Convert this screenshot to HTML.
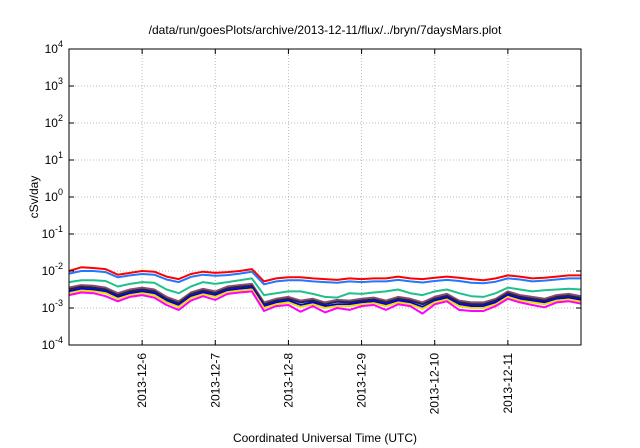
<!DOCTYPE html>
<html><head><meta charset="utf-8"><style>
html,body{margin:0;padding:0;background:#fff;}
svg{display:block;font-family:"Liberation Sans",sans-serif;}
</style></head><body>
<svg id="chart" width="640" height="448" viewBox="0 0 640 448" xmlns="http://www.w3.org/2000/svg">
<text x="325" y="34" font-size="12" text-anchor="middle">/data/run/goesPlots/archive/2013-12-11/flux/../bryn/7daysMars.plot</text>
<text transform="translate(38,197) rotate(-90)" font-size="12" text-anchor="middle">cSv/day</text>
<text x="325" y="442" font-size="12" text-anchor="middle">Coordinated Universal Time (UTC)</text>
<g id="grid"></g>
<g id="series"></g>
<g id="axes"></g>
</svg>
<script>
const dayLabels=["2013-12-6","2013-12-7","2013-12-8","2013-12-9","2013-12-10","2013-12-11"];
const yExponents=[-4,-3,-2,-1,0,1,2,3,4];
// log10 of values, sampled every 4 hours from 2013-12-05 00:00
const redExp=[-2.0,-1.9,-1.92,-1.95,-2.1,-2.05,-2.0,-2.02,-2.15,-2.22,-2.08,-2.02,-2.05,-2.03,-2.0,-1.95,-2.28,-2.2,-2.17,-2.17,-2.2,-2.22,-2.24,-2.2,-2.22,-2.2,-2.2,-2.15,-2.2,-2.22,-2.18,-2.15,-2.18,-2.22,-2.25,-2.2,-2.12,-2.15,-2.2,-2.18,-2.15,-2.12,-2.12];
const blueExp=[-2.07,-2.0,-2.0,-2.03,-2.17,-2.12,-2.08,-2.1,-2.23,-2.3,-2.16,-2.1,-2.13,-2.11,-2.07,-2.02,-2.36,-2.28,-2.25,-2.25,-2.28,-2.3,-2.32,-2.28,-2.3,-2.28,-2.28,-2.24,-2.28,-2.31,-2.27,-2.24,-2.27,-2.32,-2.33,-2.29,-2.2,-2.23,-2.28,-2.26,-2.23,-2.2,-2.2];
const tealExp=[-2.3,-2.25,-2.25,-2.27,-2.42,-2.35,-2.3,-2.32,-2.5,-2.6,-2.42,-2.3,-2.35,-2.3,-2.25,-2.2,-2.65,-2.6,-2.55,-2.55,-2.62,-2.7,-2.72,-2.6,-2.62,-2.58,-2.55,-2.5,-2.6,-2.65,-2.55,-2.5,-2.6,-2.68,-2.7,-2.6,-2.45,-2.5,-2.55,-2.52,-2.5,-2.48,-2.5];
const purpleExp=[-2.45,-2.38,-2.4,-2.45,-2.6,-2.5,-2.45,-2.5,-2.7,-2.82,-2.58,-2.48,-2.55,-2.42,-2.38,-2.35,-2.85,-2.75,-2.7,-2.8,-2.75,-2.85,-2.78,-2.8,-2.75,-2.72,-2.8,-2.7,-2.75,-2.85,-2.7,-2.62,-2.8,-2.85,-2.85,-2.75,-2.55,-2.65,-2.7,-2.75,-2.65,-2.62,-2.68];
const blackExp=[-2.5,-2.43,-2.45,-2.5,-2.65,-2.55,-2.5,-2.55,-2.75,-2.87,-2.63,-2.53,-2.6,-2.47,-2.43,-2.4,-2.9,-2.8,-2.75,-2.85,-2.8,-2.9,-2.83,-2.85,-2.8,-2.77,-2.85,-2.75,-2.8,-2.9,-2.75,-2.67,-2.85,-2.9,-2.9,-2.8,-2.6,-2.7,-2.75,-2.8,-2.7,-2.67,-2.73];
const navyExp=[-2.55,-2.48,-2.5,-2.55,-2.7,-2.6,-2.55,-2.6,-2.8,-2.92,-2.68,-2.58,-2.65,-2.52,-2.48,-2.45,-2.95,-2.85,-2.8,-2.92,-2.85,-2.95,-2.9,-2.9,-2.85,-2.82,-2.9,-2.8,-2.85,-2.97,-2.8,-2.72,-2.9,-2.95,-2.95,-2.85,-2.65,-2.75,-2.8,-2.85,-2.75,-2.72,-2.78];
const yellowExp=[-2.6,-2.53,-2.55,-2.6,-2.75,-2.65,-2.6,-2.65,-2.85,-2.97,-2.73,-2.63,-2.7,-2.57,-2.53,-2.5,-3.0,-2.9,-2.85,-2.97,-2.9,-3.0,-2.95,-2.95,-2.9,-2.87,-2.95,-2.85,-2.9,-3.02,-2.85,-2.77,-2.95,-3.0,-3.0,-2.9,-2.7,-2.8,-2.85,-2.9,-2.8,-2.77,-2.83];
const magentaExp=[-2.65,-2.58,-2.6,-2.68,-2.82,-2.7,-2.65,-2.72,-2.92,-3.05,-2.8,-2.68,-2.78,-2.62,-2.58,-2.55,-3.08,-2.95,-2.92,-3.1,-2.95,-3.12,-3.0,-3.05,-2.95,-2.92,-3.05,-2.9,-2.95,-3.15,-2.9,-2.82,-3.05,-3.08,-3.08,-2.95,-2.75,-2.85,-2.92,-2.98,-2.85,-2.82,-2.88];
const seriesList=[["series-red",redExp,"#ff0000"],["series-blue",blueExp,"#1f78ff"],["series-teal",tealExp,"#20c08c"],["series-purple",purpleExp,"#8a4a70"],["series-black",blackExp,"#222244"],["series-navy",navyExp,"#0000e0"],["series-yellow",yellowExp,"#f0e000"],["series-magenta",magentaExp,"#ff00ff"]];
const L=69,R=581,T=49,B=345,NS="http://www.w3.org/2000/svg";
function xDay(d){return L+(R-L)*d/7;}
function yExp(e){return B-(B-T)*(e+4)/8;}
function mk(tag,attrs,parent){const el=document.createElementNS(NS,tag);for(const k in attrs)el.setAttribute(k,attrs[k]);parent.appendChild(el);return el;}
const grid=document.getElementById('grid'),axes=document.getElementById('axes'),ser=document.getElementById('series');
yExponents.forEach((e,i)=>{const y=yExp(e);
 if(i>0&&i<yExponents.length-1){const g=mk('line',{x1:L,x2:R,y1:y,y2:y,stroke:'#bbb','stroke-dasharray':'1,2'},grid);}
 const t=mk('line',{x1:L,x2:L+5,y1:y,y2:y,stroke:'#000'},axes);
 mk('line',{x1:R,x2:R-5,y1:y,y2:y,stroke:'#000'},axes);
 const tx=mk('text',{x:L-6,y:y+4,'font-size':12,'text-anchor':'end'},axes);
 
 tx.appendChild(document.createTextNode('10'));
 const sp=mk('tspan',{dy:-6,'font-size':9},tx);sp.textContent=String(e);
});
dayLabels.forEach((lab,i)=>{const x=xDay(i+1);
 const g=mk('line',{x1:x,x2:x,y1:T,y2:B,stroke:'#bbb','stroke-dasharray':'1,2'},grid);
 const t=mk('line',{x1:x,x2:x,y1:B,y2:B-5,stroke:'#000'},axes);
 mk('line',{x1:x,x2:x,y1:T,y2:T+5,stroke:'#000'},axes);
 const tx=mk('text',{transform:`translate(${x+4},${B+8}) rotate(-90)`,'font-size':12,'text-anchor':'end'},axes);
 tx.textContent=lab;
});
const fr=mk('rect',{x:L,y:T,width:R-L,height:B-T,fill:'none',stroke:'#000'},axes);

seriesList.forEach(([name,arr,col])=>{const n=arr.length-1;
 const pts=arr.map((v,i)=>xDay(7*i/n).toFixed(1)+','+yExp(v).toFixed(1)).join(' ');
 const p=mk('polyline',{points:pts,fill:'none',stroke:col,'stroke-width':2,'stroke-linejoin':'round'},ser);
 
});
</script>
</body></html>
